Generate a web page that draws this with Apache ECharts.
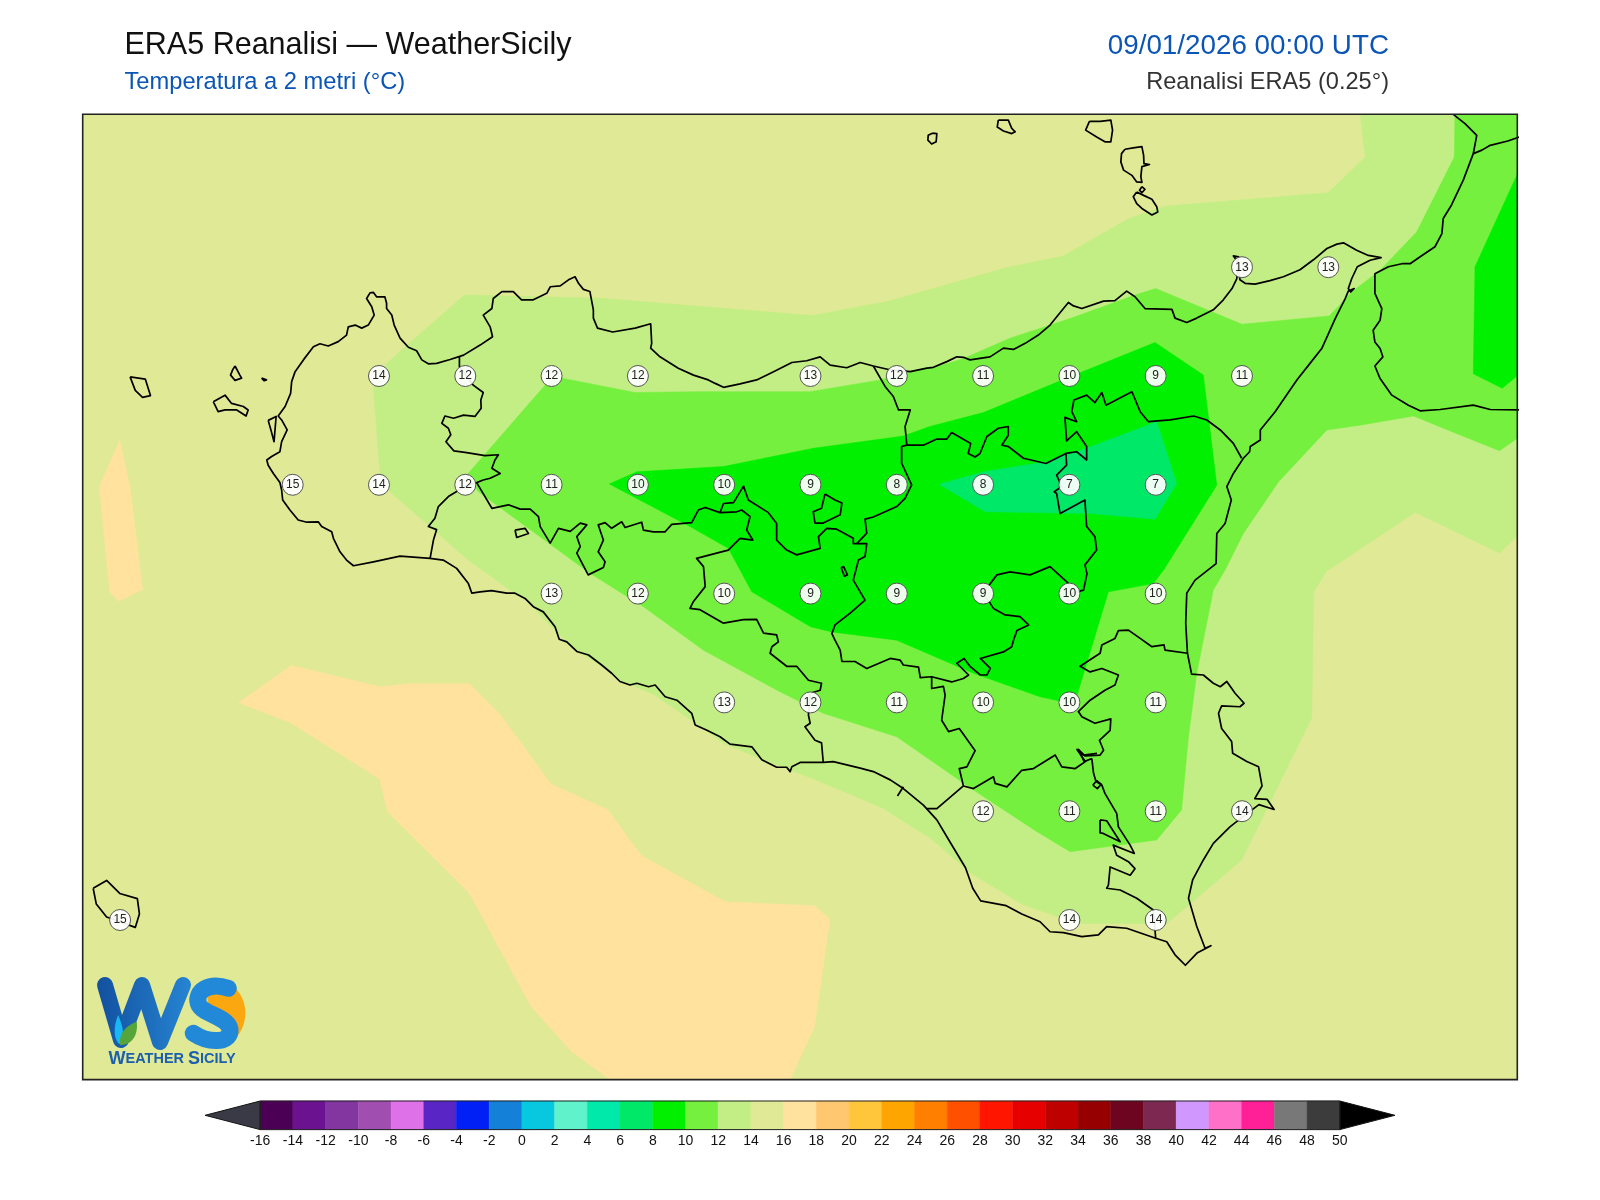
<!DOCTYPE html>
<html>
<head>
<meta charset="utf-8">
<title>ERA5 Reanalisi</title>
<script src="https://cdn.jsdelivr.net/npm/echarts@6/dist/echarts.min.js"></script>
<style>
  html, body { margin: 0; padding: 0; background: #fff; }
  #chart { width: 1600px; height: 1200px; }
</style>
</head>
<body>
<div id="chart"></div>
<script>
// map extent, degrees
const lonRange = [11.8917, 16.0475]
const latRange = [36.3833, 38.6013]

// grid stations
const stationLon = [15.25, 15.5,
  12.75, 13, 13.25, 13.5, 14, 14.25, 14.5, 14.75, 15, 15.25,
  12.5, 12.75, 13, 13.25, 13.5, 13.75, 14, 14.25, 14.5, 14.75, 15,
  13.25, 13.5, 13.75, 14, 14.25, 14.5, 14.75, 15,
  13.75, 14, 14.25, 14.5, 14.75, 15,
  14.5, 14.75, 15, 15.25,
  12, 14.75, 15]
const stationLat = [38.25, 38.25,
  38, 38, 38, 38, 38, 38, 38, 38, 38, 38,
  37.75, 37.75, 37.75, 37.75, 37.75, 37.75, 37.75, 37.75, 37.75, 37.75, 37.75,
  37.5, 37.5, 37.5, 37.5, 37.5, 37.5, 37.5, 37.5,
  37.25, 37.25, 37.25, 37.25, 37.25, 37.25,
  37, 37, 37, 37,
  36.75, 36.75, 36.75]
const stationTemp = [13, 13,
  14, 12, 12, 12, 13, 12, 11, 10, 9, 11,
  15, 14, 12, 11, 10, 10, 9, 8, 8, 7, 7,
  13, 12, 10, 9, 9, 9, 10, 10,
  13, 12, 11, 10, 10, 11,
  12, 11, 11, 14,
  15, 14, 14]

// colour bar
const barLevels = [-16, -14, -12, -10, -8, -6, -4, -2, 0, 2, 4, 6, 8, 10, 12, 14, 16, 18, 20, 22, 24, 26, 28, 30, 32, 34, 36, 38, 40, 42, 44, 46, 48, 50]
const barColors = ['#4b0055', '#6a1290', '#8335a0', '#a04fb0', '#de70e8', '#5a25c5', '#0020f5', '#1580d8', '#08c8e0', '#5ff2cb', '#00e8aa', '#00e868', '#00f000', '#75f03f', '#c3ee85', '#e0e995', '#ffe29e', '#ffc870', '#ffc63c', '#ffa500', '#ff8000', '#ff5000', '#ff1500', '#e60000', '#be0000', '#960000', '#6e0520', '#7d2850', '#d098ff', '#ff70c8', '#ff2098', '#787878', '#3c3c3c']

// temperature bands, lon/lat
const band16West = [[11.999, 37.852], [12.029, 37.744], [12.065, 37.509], [11.996, 37.483], [11.970, 37.504], [11.940, 37.746]]
const band16South = [[12.343, 37.250], [12.497, 37.335], [12.752, 37.286], [12.835, 37.293], [13.012, 37.293], [13.101, 37.222], [13.249, 37.062], [13.412, 37.004], [13.510, 36.898], [13.753, 36.792], [14.012, 36.783], [14.056, 36.752], [14.012, 36.505], [13.938, 36.379], [13.427, 36.379], [13.309, 36.447], [13.190, 36.552], [13.012, 36.811], [12.775, 36.999], [12.752, 37.074], [12.494, 37.203]]
const band12 = [[15.592, 38.604], [15.607, 38.503], [15.500, 38.421], [15.027, 38.390], [14.923, 38.362], [14.730, 38.275], [14.567, 38.249], [14.227, 38.172], [14.005, 38.139], [13.383, 38.179], [12.998, 38.186], [12.821, 38.064], [12.768, 38.025], [12.734, 37.972], [12.753, 37.776], [12.782, 37.734], [12.888, 37.661], [13.009, 37.577], [13.130, 37.508], [13.168, 37.493], [13.236, 37.435], [13.313, 37.374], [13.390, 37.336], [13.448, 37.301], [13.545, 37.269], [13.661, 37.206], [13.748, 37.156], [13.854, 37.121], [13.941, 37.095], [14.028, 37.068], [14.211, 37.007], [14.279, 36.972], [14.345, 36.940], [14.464, 36.858], [14.612, 36.787], [14.742, 36.750], [14.790, 36.742], [15.032, 36.742], [15.095, 36.784], [15.249, 36.888], [15.452, 37.215], [15.458, 37.504], [15.494, 37.551], [15.752, 37.687], [15.996, 37.593], [16.048, 37.633], [16.056, 38.604]]
const band10 = [[15.867, 38.604], [15.865, 38.503], [15.756, 38.331], [15.650, 38.243], [15.568, 38.193], [15.503, 38.138], [15.250, 38.119], [15.0, 38.201], [14.940, 38.186], [14.752, 38.132], [14.578, 38.087], [14.443, 38.040], [14.366, 38.021], [14.279, 38.010], [14.202, 37.991], [13.999, 37.964], [13.661, 37.964], [13.492, 37.962], [13.280, 37.995], [13.231, 37.979], [13.004, 37.772], [13.038, 37.734], [13.361, 37.547], [13.516, 37.470], [13.690, 37.370], [13.903, 37.278], [14.037, 37.225], [14.250, 37.171], [14.472, 37.049], [14.656, 36.953], [14.752, 36.907], [15.003, 36.934], [15.075, 37.003], [15.095, 37.171], [15.119, 37.317], [15.167, 37.508], [15.201, 37.554], [15.254, 37.638], [15.356, 37.757], [15.496, 37.876], [15.592, 37.887], [15.747, 37.908], [15.862, 37.871], [15.996, 37.828], [16.048, 37.857], [16.056, 38.604]]
const band8Main = [[13.417, 37.752], [13.497, 37.780], [13.748, 37.792], [14.009, 37.834], [14.269, 37.862], [14.346, 37.884], [14.501, 37.916], [14.752, 37.998], [14.998, 38.077], [15.138, 38.002], [15.177, 37.749], [15.023, 37.554], [14.993, 37.523], [14.863, 37.504], [14.771, 37.263], [14.752, 37.248], [14.665, 37.263], [14.472, 37.317], [14.250, 37.393], [14.062, 37.412], [14.0, 37.424], [13.830, 37.504], [13.762, 37.604], [13.651, 37.654]]
const band8East = [[16.050, 38.468], [15.925, 38.251], [15.920, 38.005], [16.004, 37.972], [16.050, 38.002]]
const band6 = [[14.373, 37.751], [14.501, 37.780], [14.684, 37.803], [14.800, 37.834], [15.003, 37.895], [15.061, 37.753], [14.998, 37.671], [14.810, 37.684], [14.506, 37.688]]

// Sicily coast
const coastSicily = [[12.898, 37.581], [12.811, 37.586], [12.734, 37.573], [12.676, 37.564], [12.656, 37.577], [12.637, 37.596], [12.618, 37.627], [12.613, 37.642], [12.584, 37.654], [12.574, 37.665], [12.541, 37.664], [12.516, 37.669], [12.492, 37.692], [12.471, 37.715], [12.468, 37.738], [12.463, 37.755], [12.444, 37.776], [12.429, 37.795], [12.425, 37.807], [12.439, 37.815], [12.463, 37.826], [12.468, 37.849], [12.484, 37.876], [12.468, 37.899], [12.458, 37.908], [12.478, 37.930], [12.494, 37.960], [12.497, 37.987], [12.507, 38.010], [12.531, 38.037], [12.560, 38.067], [12.579, 38.074], [12.603, 38.069], [12.632, 38.079], [12.656, 38.094], [12.661, 38.113], [12.681, 38.117], [12.700, 38.110], [12.719, 38.117], [12.736, 38.140], [12.729, 38.159], [12.714, 38.178], [12.724, 38.191], [12.734, 38.192], [12.743, 38.182], [12.767, 38.182], [12.772, 38.167], [12.772, 38.155], [12.787, 38.140], [12.794, 38.117], [12.811, 38.087], [12.835, 38.066], [12.859, 38.058], [12.874, 38.037], [12.893, 38.028], [12.917, 38.029], [12.956, 38.038], [12.995, 38.048], [13.043, 38.071], [13.079, 38.090], [13.072, 38.113], [13.052, 38.140], [13.077, 38.155], [13.081, 38.178], [13.106, 38.194], [13.139, 38.194], [13.163, 38.175], [13.197, 38.175], [13.236, 38.190], [13.246, 38.205], [13.275, 38.207], [13.299, 38.221], [13.318, 38.228], [13.328, 38.213], [13.342, 38.199], [13.361, 38.194], [13.371, 38.152], [13.371, 38.133], [13.383, 38.110], [13.427, 38.101], [13.492, 38.110], [13.537, 38.120], [13.540, 38.075], [13.537, 38.064], [13.564, 38.044], [13.617, 38.018], [13.661, 38.002], [13.704, 37.991], [13.724, 37.983], [13.748, 37.974], [13.796, 37.982], [13.844, 37.991], [13.893, 38.010], [13.946, 38.031], [13.989, 38.035], [14.028, 38.044], [14.057, 38.025], [14.105, 38.019], [14.144, 38.031], [14.182, 38.023], [14.226, 38.015], [14.289, 38.010], [14.337, 38.018], [14.356, 38.020], [14.395, 38.033], [14.424, 38.044], [14.443, 38.043], [14.462, 38.037], [14.520, 38.044], [14.559, 38.064], [14.588, 38.061], [14.622, 38.075], [14.660, 38.094], [14.694, 38.117], [14.747, 38.169], [14.762, 38.161], [14.786, 38.155], [14.849, 38.172], [14.882, 38.173], [14.916, 38.195], [14.940, 38.182], [14.969, 38.155], [15.047, 38.153], [15.056, 38.133], [15.090, 38.123], [15.119, 38.133], [15.167, 38.152], [15.196, 38.175], [15.221, 38.201], [15.235, 38.224], [15.240, 38.274], [15.225, 38.276], [15.238, 38.262], [15.244, 38.221], [15.259, 38.213], [15.288, 38.211], [15.331, 38.219], [15.370, 38.228], [15.418, 38.244], [15.457, 38.267], [15.496, 38.293], [15.525, 38.303], [15.544, 38.306], [15.582, 38.289], [15.616, 38.277], [15.653, 38.272], [15.621, 38.266], [15.584, 38.251], [15.568, 38.224], [15.558, 38.201], [15.565, 38.193], [15.575, 38.201], [15.558, 38.195], [15.549, 38.178], [15.520, 38.132], [15.481, 38.063], [15.443, 38.025], [15.409, 37.991], [15.346, 37.918], [15.303, 37.876], [15.303, 37.853], [15.274, 37.838], [15.272, 37.826], [15.254, 37.811], [15.225, 37.776], [15.206, 37.746], [15.219, 37.715], [15.201, 37.661], [15.177, 37.638], [15.175, 37.569], [15.114, 37.531], [15.090, 37.501], [15.087, 37.432], [15.092, 37.363], [15.104, 37.315], [15.138, 37.313], [15.167, 37.294], [15.187, 37.286], [15.206, 37.298], [15.230, 37.271], [15.256, 37.248], [15.244, 37.240], [15.191, 37.242], [15.182, 37.225], [15.191, 37.190], [15.220, 37.160], [15.223, 37.133], [15.264, 37.114], [15.298, 37.102], [15.308, 37.058], [15.287, 37.029], [15.323, 37.027], [15.343, 37.004], [15.299, 37.015], [15.252, 36.987], [15.215, 36.964], [15.167, 36.926], [15.138, 36.888], [15.107, 36.842], [15.095, 36.800], [15.119, 36.735], [15.143, 36.685], [15.160, 36.691], [15.121, 36.675], [15.086, 36.646], [15.056, 36.670], [15.032, 36.700], [15.0, 36.708], [14.916, 36.731], [14.858, 36.735], [14.834, 36.716], [14.786, 36.712], [14.733, 36.721], [14.694, 36.723], [14.665, 36.746], [14.612, 36.764], [14.567, 36.783], [14.493, 36.794], [14.470, 36.823], [14.449, 36.870], [14.405, 36.928], [14.366, 36.980], [14.327, 37.014], [14.269, 37.052], [14.231, 37.072], [14.182, 37.091], [14.144, 37.099], [14.066, 37.114], [14.037, 37.112], [13.970, 37.112], [13.946, 37.102], [13.941, 37.091], [13.931, 37.101], [13.902, 37.101], [13.859, 37.118], [13.830, 37.148], [13.767, 37.154], [13.738, 37.171], [13.700, 37.186], [13.666, 37.198], [13.656, 37.225], [13.613, 37.255], [13.579, 37.263], [13.550, 37.290], [13.531, 37.286], [13.497, 37.294], [13.477, 37.290], [13.448, 37.298], [13.424, 37.317], [13.395, 37.336], [13.357, 37.359], [13.323, 37.367], [13.294, 37.389], [13.272, 37.395], [13.260, 37.424], [13.226, 37.458], [13.197, 37.470], [13.173, 37.489], [13.144, 37.501], [13.120, 37.501], [13.076, 37.507], [13.043, 37.504], [13.019, 37.501], [13.009, 37.523], [12.975, 37.558], [12.936, 37.577], [12.898, 37.581]]

// Calabria coast
const coastCalabria = [[15.862, 38.601], [15.896, 38.580], [15.930, 38.553], [15.920, 38.511], [15.891, 38.450], [15.857, 38.393], [15.833, 38.362], [15.829, 38.327], [15.809, 38.297], [15.766, 38.274], [15.737, 38.258], [15.713, 38.258], [15.674, 38.251], [15.635, 38.235], [15.635, 38.190], [15.655, 38.155], [15.650, 38.128], [15.630, 38.105], [15.635, 38.078], [15.650, 38.063], [15.658, 38.044], [15.635, 38.023], [15.650, 37.994], [15.684, 37.956], [15.732, 37.933], [15.766, 37.920], [15.824, 37.923], [15.920, 37.933], [15.969, 37.923], [16.056, 37.922]]
const coastCalabriaNorth = [[15.920, 38.511], [15.945, 38.519], [15.969, 38.530], [16.020, 38.540], [16.056, 38.550]]

// province borders
const borderTrapani = [[12.983, 38.044], [12.983, 38.021], [13.023, 37.979], [13.052, 37.962], [13.045, 37.945], [13.046, 37.926], [13.028, 37.907], [12.995, 37.910], [12.966, 37.903], [12.941, 37.908], [12.932, 37.891], [12.951, 37.880], [12.958, 37.865], [12.944, 37.849], [12.967, 37.828], [13.004, 37.824], [13.057, 37.817], [13.096, 37.819], [13.086, 37.807], [13.077, 37.788], [13.101, 37.776], [13.072, 37.765], [13.052, 37.761], [13.033, 37.755], [12.999, 37.746], [12.951, 37.723], [12.922, 37.700], [12.912, 37.673], [12.893, 37.654], [12.917, 37.647], [12.908, 37.624], [12.898, 37.581]]
const borderAgrigento = [[13.033, 37.755], [13.077, 37.696], [13.125, 37.704], [13.159, 37.694], [13.188, 37.694], [13.212, 37.677], [13.217, 37.654], [13.246, 37.616], [13.270, 37.650], [13.304, 37.643], [13.333, 37.662], [13.352, 37.658], [13.323, 37.631], [13.333, 37.608], [13.323, 37.593], [13.356, 37.543], [13.400, 37.560], [13.405, 37.573], [13.385, 37.596], [13.400, 37.623], [13.385, 37.658], [13.405, 37.663], [13.424, 37.650], [13.453, 37.665], [13.463, 37.652], [13.511, 37.664], [13.516, 37.646], [13.545, 37.642], [13.579, 37.642], [13.598, 37.659], [13.656, 37.663], [13.675, 37.692], [13.695, 37.698], [13.738, 37.686], [13.786, 37.688], [13.801, 37.692], [13.825, 37.677], [13.815, 37.646], [13.833, 37.623], [13.796, 37.627], [13.762, 37.600], [13.728, 37.593], [13.670, 37.581], [13.690, 37.562], [13.695, 37.516], [13.661, 37.482], [13.651, 37.466], [13.680, 37.463], [13.748, 37.432], [13.806, 37.440], [13.844, 37.441], [13.864, 37.409], [13.902, 37.405], [13.907, 37.389], [13.888, 37.378], [13.883, 37.363], [13.931, 37.333], [13.960, 37.333], [13.994, 37.301], [14.032, 37.294], [14.028, 37.278], [13.999, 37.271], [13.994, 37.221], [13.999, 37.202], [13.984, 37.194], [14.013, 37.163], [14.032, 37.157], [14.037, 37.112]]
const borderEnna = [[13.738, 37.686], [13.748, 37.707], [13.777, 37.709], [13.806, 37.747], [13.820, 37.715], [13.878, 37.686], [13.902, 37.661], [13.902, 37.623], [13.931, 37.600], [13.960, 37.589], [14.028, 37.604], [14.023, 37.631], [14.047, 37.650], [14.076, 37.648], [14.124, 37.627], [14.124, 37.615], [14.163, 37.615], [14.158, 37.585], [14.139, 37.577], [14.124, 37.531], [14.158, 37.485], [14.115, 37.455], [14.071, 37.428], [14.062, 37.408], [14.071, 37.393], [14.086, 37.370], [14.091, 37.344], [14.129, 37.344], [14.163, 37.328], [14.231, 37.351], [14.260, 37.347], [14.269, 37.336], [14.313, 37.331], [14.318, 37.307], [14.351, 37.309], [14.409, 37.297], [14.443, 37.305], [14.458, 37.313], [14.424, 37.340], [14.445, 37.351], [14.463, 37.332], [14.492, 37.313], [14.511, 37.313], [14.521, 37.328], [14.492, 37.351], [14.559, 37.366], [14.583, 37.378], [14.588, 37.393], [14.598, 37.415], [14.632, 37.428], [14.607, 37.447], [14.564, 37.451], [14.530, 37.466], [14.521, 37.477], [14.499, 37.500], [14.540, 37.543], [14.578, 37.550], [14.636, 37.543], [14.694, 37.562], [14.748, 37.523], [14.752, 37.500], [14.791, 37.508], [14.801, 37.546], [14.795, 37.566], [14.829, 37.600], [14.824, 37.631], [14.800, 37.654], [14.795, 37.715], [14.723, 37.684], [14.713, 37.730], [14.706, 37.734], [14.728, 37.746], [14.713, 37.772], [14.742, 37.795], [14.740, 37.822], [14.682, 37.799], [14.617, 37.811], [14.573, 37.838], [14.554, 37.841], [14.573, 37.864], [14.573, 37.884], [14.544, 37.880], [14.511, 37.861], [14.491, 37.822], [14.477, 37.814], [14.457, 37.822], [14.464, 37.845], [14.409, 37.870], [14.395, 37.855], [14.366, 37.855], [14.327, 37.841], [14.279, 37.841]]
const borderPalermo = [[14.182, 38.023], [14.216, 37.976], [14.240, 37.953], [14.255, 37.922], [14.289, 37.922], [14.274, 37.884], [14.279, 37.841], [14.264, 37.838], [14.264, 37.800], [14.293, 37.750], [14.274, 37.719], [14.250, 37.700], [14.182, 37.676], [14.158, 37.671], [14.163, 37.639], [14.134, 37.615]]
const borderMessina = [[14.740, 37.822], [14.771, 37.826], [14.800, 37.807], [14.800, 37.838], [14.771, 37.872], [14.742, 37.851], [14.737, 37.905], [14.771, 37.895], [14.757, 37.918], [14.763, 37.945], [14.800, 37.956], [14.824, 37.939], [14.844, 37.962], [14.856, 37.933], [14.931, 37.964], [14.955, 37.918], [14.979, 37.895], [15.042, 37.899], [15.110, 37.908], [15.148, 37.899], [15.187, 37.876], [15.225, 37.845], [15.249, 37.811]]
const borderCatania = [[15.092, 37.363], [15.027, 37.370], [15.024, 37.382], [14.989, 37.378], [14.955, 37.397], [14.921, 37.416], [14.892, 37.415], [14.882, 37.397], [14.844, 37.382], [14.839, 37.363], [14.781, 37.333], [14.810, 37.320], [14.844, 37.328], [14.892, 37.313], [14.882, 37.290], [14.853, 37.278], [14.810, 37.255], [14.776, 37.229], [14.786, 37.217], [14.824, 37.202], [14.870, 37.212], [14.868, 37.186], [14.837, 37.163], [14.849, 37.140], [14.839, 37.129], [14.795, 37.127], [14.776, 37.142], [14.793, 37.114], [14.815, 37.121]]
const borderRagusa = [[14.815, 37.121], [14.820, 37.087], [14.827, 37.068], [14.844, 37.060], [14.853, 37.041], [14.887, 36.995], [14.892, 36.964], [14.926, 36.922], [14.938, 36.903], [14.877, 36.922], [14.887, 36.899], [14.921, 36.884], [14.940, 36.868], [14.926, 36.853], [14.868, 36.872], [14.863, 36.830], [14.858, 36.823], [14.897, 36.819], [14.945, 36.800], [14.993, 36.773], [15.0, 36.708]]
const borderGela = [[14.443, 37.058], [14.472, 37.052], [14.530, 37.079], [14.535, 37.064], [14.569, 37.056], [14.612, 37.094], [14.646, 37.098], [14.709, 37.129], [14.728, 37.102], [14.767, 37.098], [14.796, 37.114], [14.772, 37.142], [14.791, 37.129], [14.830, 37.133]]
const borderCaltanissetta = [[14.351, 37.309], [14.351, 37.282], [14.385, 37.287], [14.390, 37.267], [14.380, 37.209], [14.400, 37.183], [14.431, 37.190], [14.477, 37.139], [14.453, 37.102], [14.431, 37.098], [14.443, 37.058], [14.366, 37.006], [14.337, 37.006]]
const borderTick = [[14.269, 37.056], [14.252, 37.035]]

// closed shapes: islands, lakes, enclaves
const islandAlicudi = [[14.353, 38.558], [14.366, 38.557], [14.364, 38.538], [14.351, 38.533], [14.340, 38.542], [14.341, 38.553]]
const islandFilicudi = [[14.544, 38.588], [14.573, 38.588], [14.583, 38.569], [14.593, 38.561], [14.583, 38.557], [14.559, 38.563], [14.541, 38.572]]
const islandSalina = [[14.808, 38.585], [14.839, 38.585], [14.870, 38.588], [14.875, 38.565], [14.870, 38.538], [14.853, 38.538], [14.829, 38.549], [14.797, 38.565]]
const islandLipari = [[14.911, 38.521], [14.935, 38.524], [14.960, 38.527], [14.965, 38.507], [14.966, 38.488], [14.982, 38.486], [14.960, 38.481], [14.957, 38.458], [14.960, 38.445], [14.945, 38.446], [14.931, 38.461], [14.907, 38.473], [14.899, 38.492], [14.901, 38.511]]
const islandVulcanello = [[14.960, 38.435], [14.969, 38.429], [14.960, 38.421], [14.953, 38.427]]
const islandVulcano = [[14.945, 38.423], [14.965, 38.415], [14.989, 38.406], [15.003, 38.389], [15.006, 38.377], [14.989, 38.370], [14.960, 38.385], [14.945, 38.396], [14.935, 38.412]]
const islandMarettimo = [[12.029, 37.998], [12.073, 37.993], [12.088, 37.955], [12.065, 37.951], [12.044, 37.967]]
const islandFavignana = [[12.270, 37.941], [12.304, 37.956], [12.323, 37.937], [12.357, 37.930], [12.371, 37.922], [12.365, 37.908], [12.338, 37.922], [12.304, 37.922], [12.284, 37.918]]
const islandLevanzo = [[12.333, 38.023], [12.347, 38.002], [12.352, 37.995], [12.333, 37.990], [12.320, 38.002], [12.326, 38.014]]
const islandFormica = [[12.410, 37.995], [12.424, 37.991], [12.417, 37.989]]
const islandStagnone = [[12.429, 37.898], [12.452, 37.907], [12.446, 37.849], [12.437, 37.876]]
const islandSouthWest = [[11.922, 36.823], [11.961, 36.841], [11.999, 36.811], [12.050, 36.799], [12.056, 36.764], [12.044, 36.733], [11.961, 36.757], [11.931, 36.787]]
const islandSciacca = [[13.144, 37.646], [13.173, 37.650], [13.183, 37.638], [13.149, 37.629]]
const lakeEnclave = [[14.042, 37.729], [14.071, 37.715], [14.091, 37.708], [14.086, 37.681], [14.037, 37.662], [14.013, 37.662], [14.008, 37.688], [14.032, 37.696]]
const lakeSmall = [[14.089, 37.560], [14.096, 37.562], [14.107, 37.543], [14.098, 37.540]]
const lakeRagusa = [[14.818, 37.060], [14.829, 37.070], [14.842, 37.062], [14.831, 37.052]]
const lagoonVendicari = [[14.839, 36.980], [14.858, 36.978], [14.897, 36.930], [14.848, 36.949], [14.839, 36.950]]

const openLines = [coastSicily, coastCalabria, coastCalabriaNorth, borderTrapani, borderAgrigento, borderEnna, borderPalermo, borderMessina, borderCatania, borderRagusa, borderGela, borderCaltanissetta, borderTick]
const closedLines = [islandAlicudi, islandFilicudi, islandSalina, islandLipari, islandVulcanello, islandVulcano, islandMarettimo, islandFavignana, islandLevanzo, islandFormica, islandStagnone, islandSouthWest, islandSciacca, lakeEnclave, lakeSmall, lakeRagusa, lagoonVendicari]

const bandShapes = [
  [band16West, '#ffe29e'],
  [band16South, '#ffe29e'],
  [band12, '#c3ee85'],
  [band10, '#75f03f'],
  [band8Main, '#00f000'],
  [band8East, '#00f000'],
  [band6, '#00e868'],
]

const chart = echarts.init(document.getElementById('chart'), null, { renderer: 'canvas' })

const bandSeries = bandShapes.map(([shape, color], i) => ({
  type: 'custom',
  coordinateSystem: 'cartesian2d',
  xAxisIndex: 0,
  yAxisIndex: 0,
  clip: true,
  silent: true,
  z: 2 + i,
  data: [0],
  renderItem: (params, api) => ({
    type: 'polygon',
    shape: { points: shape.map(p => api.coord(p)) },
    style: { fill: color, stroke: color, lineWidth: 0.5 },
  }),
}))

const lineSeries = openLines.concat(closedLines.map(r => r.concat([r[0]]))).map(d => ({
  type: 'line',
  xAxisIndex: 0,
  yAxisIndex: 0,
  data: d,
  showSymbol: false,
  silent: true,
  z: 12,
  lineStyle: { color: '#000', width: 1.7, join: 'round' },
}))

const stationSeries = {
  type: 'scatter',
  xAxisIndex: 0,
  yAxisIndex: 0,
  z: 20,
  symbolSize: 21,
  silent: true,
  data: stationLon.map((lon, i) => [lon, stationLat[i], stationTemp[i]]),
  itemStyle: { color: 'rgba(255,255,255,0.93)', borderColor: '#555', borderWidth: 1, opacity: 1 },
  label: {
    show: true,
    position: 'inside',
    formatter: p => p.value[2],
    fontFamily: 'Liberation Sans',
    fontSize: 12,
    color: '#222',
  },
}

const barSeries = {
  type: 'custom',
  xAxisIndex: 1,
  yAxisIndex: 1,
  clip: false,
  silent: true,
  z: 5,
  data: barColors.map((c, i) => [barLevels[i], barLevels[i + 1]]),
  renderItem: (params, api) => {
    const a = api.coord([api.value(0), 1])
    const b = api.coord([api.value(1), 0])
    return {
      type: 'rect',
      shape: { x: a[0], y: a[1], width: b[0] - a[0], height: b[1] - a[1] },
      style: { fill: barColors[params.dataIndex], stroke: barColors[params.dataIndex], lineWidth: 0.5 },
    }
  },
}

// extend arrows of the colour bar, below -16 and above 50
const arrowSeries = {
  type: 'custom',
  xAxisIndex: 1,
  yAxisIndex: 1,
  clip: false,
  silent: true,
  z: 6,
  data: [[-16, -19.37], [50, 53.37]],
  renderItem: (params, api) => ({
    type: 'polygon',
    shape: {
      points: [
        api.coord([api.value(0), 1]),
        api.coord([api.value(1), 0.5]),
        api.coord([api.value(0), 0]),
      ],
    },
    style: { fill: params.dataIndex === 0 ? '#3a3a46' : '#000', stroke: '#111', lineWidth: 1 },
  }),
}

const barFrame = {
  type: 'custom',
  xAxisIndex: 1,
  yAxisIndex: 1,
  clip: false,
  silent: true,
  z: 7,
  data: [[-16, 50]],
  renderItem: (params, api) => {
    const a = api.coord([api.value(0), 1])
    const b = api.coord([api.value(1), 0])
    return {
      type: 'rect',
      shape: { x: a[0], y: a[1], width: b[0] - a[0], height: b[1] - a[1] },
      style: { fill: null, stroke: '#222', lineWidth: 1 },
    }
  },
}

// logo: moon, W, drop and leaf, S (paths only work in a custom series)
const logoSeries = {
  type: 'custom',
  coordinateSystem: 'none',
  silent: true,
  clip: false,
  z: 40,
  data: [0],
  renderItem: () => ({
    type: 'group',
    children: [
      { type: 'path', shape: { pathData: 'M 231.7 985 C 251.7 1000, 250 1033.3, 225 1046.7 L 211.7 1048.3 C 235 1043.3, 235 1016.7, 218.3 1010 C 208.3 1006.7, 203.3 998.3, 211.7 991.7 Z' }, style: { fill: '#fba70f' } },
      { type: 'polyline', shape: { points: [[105, 985], [121, 1040], [142, 985], [160, 1042], [183, 985]] }, style: { stroke: new echarts.graphic.LinearGradient(0, 0, 1, 0, [{ offset: 0, color: '#12509f' }, { offset: 1, color: '#2685d3' }]), lineWidth: 16, lineCap: 'round', lineJoin: 'round', fill: null } },
      { type: 'path', shape: { pathData: 'M 118.3 1015 C 121.7 1025, 125 1030, 121.7 1045 C 115 1043.3, 111.7 1030, 118.3 1015 Z' }, style: { fill: '#18b8f5' } },
      { type: 'path', shape: { pathData: 'M 120 1045 C 118.3 1033.3, 126.7 1025, 136.7 1021.7 C 138.3 1033.3, 133.3 1045, 120 1045 Z' }, style: { fill: '#55a53a' } },
      { type: 'path', shape: { pathData: 'M 228.3 988.3 C 208.3 981.7, 195 991.7, 198.3 1003.3 C 201.7 1015, 231.7 1016.7, 230 1031.7 C 228.3 1043.3, 208.3 1043.3, 193.3 1033.3' }, style: { fill: null, stroke: '#2288d8', lineWidth: 17, lineCap: 'round' } },
    ],
  }),
}

const titleFont = 'Liberation Sans'

chart.setOption({
  animation: false,
  backgroundColor: '#fff',
  title: [
    { text: 'ERA5 Reanalisi — WeatherSicily', left: 119.5, top: 25, textStyle: { fontFamily: titleFont, fontWeight: 'normal', fontSize: 30.5, color: '#111' } },
    { text: 'Temperatura a 2 metri (°C)', left: 119.5, top: 65, textStyle: { fontFamily: titleFont, fontWeight: 'normal', fontSize: 23.7, color: '#0a55b5' } },
    { text: '09/01/2026 00:00 UTC', right: 206, top: 27, textStyle: { fontFamily: titleFont, fontWeight: 'normal', fontSize: 27.8, color: '#0a55b5' } },
    { text: 'Reanalisi ERA5 (0.25°)', right: 206, top: 65, textStyle: { fontFamily: titleFont, fontWeight: 'normal', fontSize: 23.6, color: '#333' } },
  ],
  grid: [
    { left: 82.7, top: 114.3, width: 1434.6, height: 965.3, show: true, backgroundColor: '#e0e995', borderWidth: 0 },
    { left: 260.2, top: 1101, width: 1079.6, height: 28.6 },
  ],
  xAxis: [
    { type: 'value', gridIndex: 0, min: lonRange[0], max: lonRange[1], show: false },
    {
      type: 'value', gridIndex: 1, min: -16, max: 50, interval: 2,
      axisLine: { show: false }, axisTick: { show: false }, splitLine: { show: false },
      axisLabel: { fontFamily: titleFont, fontSize: 14, color: '#111', margin: 5, hideOverlap: false },
    },
  ],
  yAxis: [
    { type: 'value', gridIndex: 0, min: latRange[0], max: latRange[1], show: false },
    { type: 'value', gridIndex: 1, min: 0, max: 1, show: false },
  ],
  series: [...bandSeries, ...lineSeries, stationSeries, barSeries, arrowSeries, barFrame, logoSeries],
  graphic: [
    // map frame
    { type: 'rect', z: 50, silent: true, shape: { x: 82.7, y: 114.3, width: 1434.6, height: 965.3 }, style: { fill: null, stroke: '#222', lineWidth: 1.6 } },
    { type: 'text', z: 44, silent: true, x: 108.5, y: 1050, style: { text: '{a|W}{b|EATHER }{a|S}{b|ICILY}', rich: { a: { fontFamily: titleFont, fontWeight: 'bold', fontSize: 18, fill: '#1b5fae' }, b: { fontFamily: titleFont, fontWeight: 'bold', fontSize: 14.5, fill: '#1b5fae' } } } },
  ],
})
</script>
</body>
</html>
